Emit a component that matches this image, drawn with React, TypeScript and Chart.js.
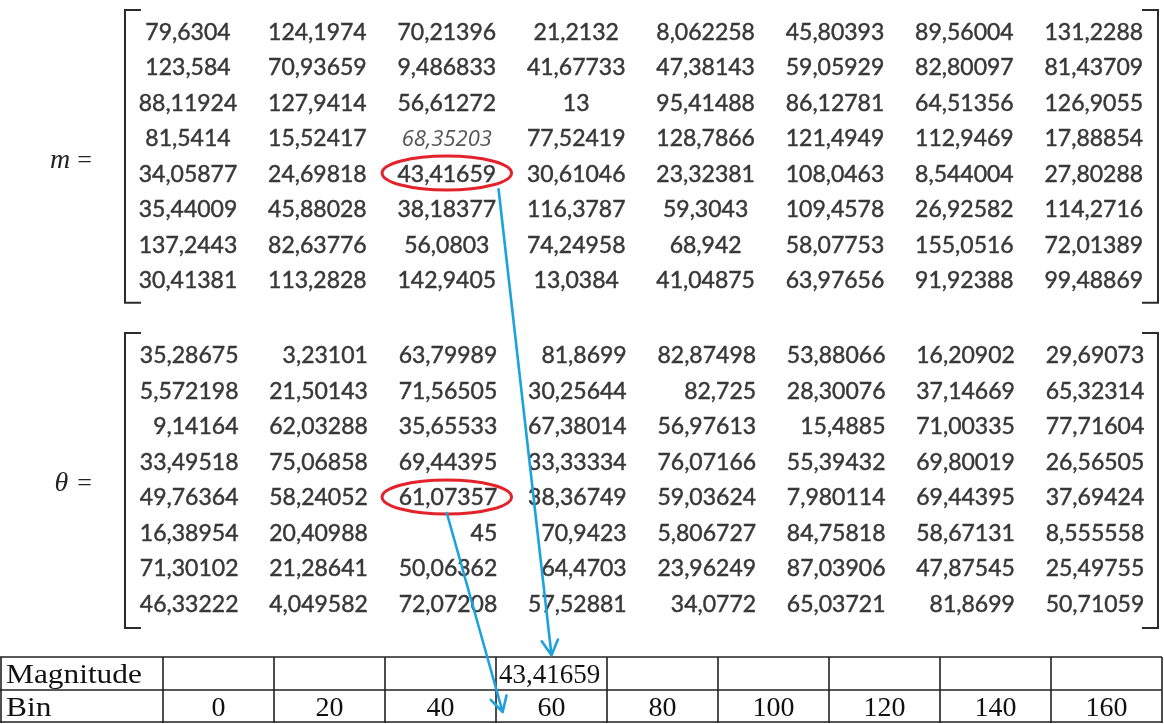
import React, { useEffect, useRef } from "react";
import { Chart, registerables } from "chart.js";

Chart.register(...registerables);

// ---------- data ----------
const mRows: string[][] = [
  ["79,6304", "124,1974", "70,21396", "21,2132", "8,062258", "45,80393", "89,56004", "131,2288"],
  ["123,584", "70,93659", "9,486833", "41,67733", "47,38143", "59,05929", "82,80097", "81,43709"],
  ["88,11924", "127,9414", "56,61272", "13", "95,41488", "86,12781", "64,51356", "126,9055"],
  ["81,5414", "15,52417", "68,35203", "77,52419", "128,7866", "121,4949", "112,9469", "17,88854"],
  ["34,05877", "24,69818", "43,41659", "30,61046", "23,32381", "108,0463", "8,544004", "27,80288"],
  ["35,44009", "45,88028", "38,18377", "116,3787", "59,3043", "109,4578", "26,92582", "114,2716"],
  ["137,2443", "82,63776", "56,0803", "74,24958", "68,942", "58,07753", "155,0516", "72,01389"],
  ["30,41381", "113,2828", "142,9405", "13,0384", "41,04875", "63,97656", "91,92388", "99,48869"],
];

const thetaRows: string[][] = [
  ["35,28675", "3,23101", "63,79989", "81,8699", "82,87498", "53,88066", "16,20902", "29,69073"],
  ["5,572198", "21,50143", "71,56505", "30,25644", "82,725", "28,30076", "37,14669", "65,32314"],
  ["9,14164", "62,03288", "35,65533", "67,38014", "56,97613", "15,4885", "71,00335", "77,71604"],
  ["33,49518", "75,06858", "69,44395", "33,33334", "76,07166", "55,39432", "69,80019", "26,56505"],
  ["49,76364", "58,24052", "61,07357", "38,36749", "59,03624", "7,980114", "69,44395", "37,69424"],
  ["16,38954", "20,40988", "45", "70,9423", "5,806727", "84,75818", "58,67131", "8,555558"],
  ["71,30102", "21,28641", "50,06362", "64,4703", "23,96249", "87,03906", "47,87545", "25,49755"],
  ["46,33222", "4,049582", "72,07208", "57,52881", "34,0772", "65,03721", "81,8699", "50,71059"],
];

const tableRowLabels = ["Magnitude", "Bin"];
const binLabels = ["0", "20", "40", "60", "80", "100", "120", "140", "160"];
const magnitudeCells = ["", "", "", "43,41659", "", "", "", "", ""];

const highlightRow = 4;
const highlightCol = 2;

// ---------- layout (scale units) ----------
const X_MIN = -1.4529;
const X_MAX = 7.5425;
const XT_MIN = -1.4685;
const XT_MAX = 9.018;
const Y_MIN = -0.9014;
const Y_MAX = 19.493;
const THETA_OFFSET = 9.099;
const THETA_RIGHT = 0.39;
const TABLE_TOP = 17.606;
const TABLE_ROW_H = 0.93;

type Cell = { x: number; y: number; text: string };

const mPoints: Cell[] = [];
mRows.forEach((row, r) => row.forEach((t, c) => mPoints.push({ x: c, y: r, text: t })));
const thetaPoints: Cell[] = [];
thetaRows.forEach((row, r) =>
  row.forEach((t, c) => thetaPoints.push({ x: c + THETA_RIGHT, y: THETA_OFFSET + r, text: t }))
);
const tablePoints: Cell[] = [];
binLabels.forEach((t, i) => tablePoints.push({ x: i + 0.5, y: TABLE_TOP + TABLE_ROW_H * 1.5, text: t }));
magnitudeCells.forEach((t, i) => {
  if (t) tablePoints.push({ x: i, y: TABLE_TOP + TABLE_ROW_H * 0.5, text: t });
});

const NUM_FONT = '23px "Lato", "Open Sans", sans-serif';
const NUM_COLOR = "#383838";
const SERIF = '"Liberation Serif", "Times New Roman", serif';

function drawArrow(ctx: CanvasRenderingContext2D, x1: number, y1: number, x2: number, y2: number) {
  ctx.save();
  ctx.strokeStyle = "#1ea2de";
  ctx.lineWidth = 2.6;
  ctx.lineCap = "round";
  ctx.lineJoin = "round";
  ctx.beginPath();
  ctx.moveTo(x1, y1);
  ctx.lineTo(x2, y2);
  const a = Math.atan2(y2 - y1, x2 - x1);
  const len = 17;
  const spread = 0.5;
  ctx.moveTo(x2 - len * Math.cos(a - spread), y2 - len * Math.sin(a - spread));
  ctx.lineTo(x2, y2);
  ctx.lineTo(x2 - len * Math.cos(a + spread), y2 - len * Math.sin(a + spread));
  ctx.stroke();
  ctx.restore();
}

const figurePlugin = {
  id: "figurePlugin",
  afterDatasetsDraw(chart: any) {
    const ctx: CanvasRenderingContext2D = chart.ctx;
    const xs = chart.scales.x;
    const xt = chart.scales.xt;
    const ys = chart.scales.y;
    const X = (v: number) => xs.getPixelForValue(v);
    const XT = (v: number) => xt.getPixelForValue(v);
    const Y = (v: number) => ys.getPixelForValue(v);

    ctx.save();

    // brackets
    ctx.strokeStyle = "#2b2b2b";
    ctx.lineWidth = 2;
    const serif = 16;
    const bracket = (xl: number, xr: number, top: number, bottom: number) => {
      ctx.beginPath();
      ctx.moveTo(xl + serif, top);
      ctx.lineTo(xl, top);
      ctx.lineTo(xl, bottom);
      ctx.lineTo(xl + serif, bottom);
      ctx.moveTo(xr - serif, top);
      ctx.lineTo(xr, top);
      ctx.lineTo(xr, bottom);
      ctx.lineTo(xr - serif, bottom);
      ctx.stroke();
    };
    bracket(X(-0.487), X(7.496), Y(-0.62), Y(7.63));
    bracket(X(-0.487), X(7.496), Y(THETA_OFFSET - 0.62), Y(THETA_OFFSET + 7.69));

    // matrix names
    ctx.fillStyle = "#222";
    ctx.textBaseline = "alphabetic";
    const nameX = X(-0.742);
    ctx.textAlign = "right";
    ctx.font = `26px ${SERIF}`;
    ctx.fillText("=", nameX, Y(3.6) + 8);
    ctx.fillText("=", nameX, Y(THETA_OFFSET + 3.6) + 8);
    const eqW = ctx.measureText("=").width;
    ctx.font = `italic 28px ${SERIF}`;
    ctx.fillText("m", nameX - eqW - 7, Y(3.6) + 8);
    ctx.fillText("θ", nameX - eqW - 9, Y(THETA_OFFSET + 3.6) + 8);

    // caption fragment cut at top
    ctx.font = `26px ${SERIF}`;
    ctx.textAlign = "left";
    ctx.fillText("g", X(5.83), Y(-1.05));

    // matrix numbers
    const drawCells = (dsIndex: number, align: CanvasTextAlign) => {
      const meta = chart.getDatasetMeta(dsIndex);
      const data = chart.data.datasets[dsIndex].data as Cell[];
      meta.data.forEach((el: any, i: number) => {
        const cell = data[i];
        ctx.textAlign = align;
        if (dsIndex === 0 && cell.text === "68,35203") {
          ctx.font = 'italic 22px "Open Sans", sans-serif';
          ctx.fillStyle = "#555";
          ctx.fillText(cell.text, el.x, el.y + 8);
          return;
        }
        ctx.font = NUM_FONT;
        ctx.fillStyle = NUM_COLOR;
        ctx.strokeStyle = NUM_COLOR;
        ctx.lineWidth = 0.45;
        ctx.fillText(cell.text, el.x, el.y + 8);
        ctx.strokeText(cell.text, el.x, el.y + 8);
      });
    };
    drawCells(0, "center");
    drawCells(1, "right");

    // table grid
    const tTop = Y(TABLE_TOP);
    const tMid = Y(TABLE_TOP + TABLE_ROW_H);
    const tBot = Y(TABLE_TOP + 2 * TABLE_ROW_H);
    ctx.strokeStyle = "#222";
    ctx.lineWidth = 1.6;
    ctx.beginPath();
    [tTop, tMid, tBot - 1].forEach((yy) => {
      ctx.moveTo(0, yy);
      ctx.lineTo(XT(binLabels.length), yy);
    });
    ctx.moveTo(1, tTop);
    ctx.lineTo(1, tBot);
    for (let k = 0; k <= binLabels.length; k++) {
      const xx = Math.min(XT(k), chart.width - 1.5);
      ctx.moveTo(xx, tTop);
      ctx.lineTo(xx, tBot);
    }
    ctx.stroke();

    // table text
    ctx.fillStyle = "#111";
    ctx.textAlign = "left";
    ctx.font = `28px ${SERIF}`;
    tableRowLabels.forEach((t, r) => {
      ctx.save();
      ctx.translate(XT(XT_MIN) + 6, Y(TABLE_TOP + TABLE_ROW_H * (r + 0.5)) + 9);
      ctx.scale(1.12, 1);
      ctx.fillText(t, 0, 0);
      ctx.restore();
    });
    const tMeta = chart.getDatasetMeta(2);
    const tData = chart.data.datasets[2].data as Cell[];
    tMeta.data.forEach((el: any, i: number) => {
      const cell = tData[i];
      const isBin = i < binLabels.length;
      ctx.font = isBin ? `28px ${SERIF}` : `27px ${SERIF}`;
      ctx.textAlign = isBin ? "center" : "left";
      ctx.fillText(cell.text, isBin ? el.x : el.x + 3, el.y + 9);
    });

    // red ellipses around the highlighted cell
    ctx.strokeStyle = "#e2232c";
    ctx.lineWidth = 3;
    const ellipse = (cx: number, cy: number) => {
      ctx.beginPath();
      ctx.ellipse(cx, cy, X(highlightCol + 0.5) - X(highlightCol), Y(0.48) - Y(0), 0, 0, Math.PI * 2);
      ctx.stroke();
    };
    ellipse(X(highlightCol), Y(highlightRow) - 1);
    ellipse(X(highlightCol), Y(THETA_OFFSET + highlightRow));

    // arrows to the histogram table
    drawArrow(ctx, X(highlightCol + 0.4), Y(highlightRow + 0.43), XT(3.5), Y(TABLE_TOP - 0.05));
    drawArrow(ctx, X(highlightCol), Y(THETA_OFFSET + highlightRow + 0.45), XT(3.06), Y(19.155));

    ctx.restore();
  },
};

export default function App() {
  const ref = useRef<HTMLCanvasElement>(null);
  useEffect(() => {
    const canvas = ref.current;
    if (!canvas) return;
    const chart = new Chart(canvas, {
      type: "scatter",
      data: {
        datasets: [
          { label: "m", data: mPoints as any, xAxisID: "x", yAxisID: "y", pointRadius: 0 },
          { label: "theta", data: thetaPoints as any, xAxisID: "x", yAxisID: "y", pointRadius: 0 },
          { label: "table", data: tablePoints as any, xAxisID: "xt", yAxisID: "y", pointRadius: 0 },
        ],
      },
      options: {
        responsive: false,
        animation: false,
        events: [],
        layout: { padding: 0 },
        plugins: { legend: { display: false }, tooltip: { enabled: false } },
        scales: {
          x: { type: "linear", display: false, min: X_MIN, max: X_MAX },
          xt: { type: "linear", axis: "x", display: false, min: XT_MIN, max: XT_MAX },
          y: { type: "linear", display: false, reverse: true, min: Y_MIN, max: Y_MAX },
        },
      } as any,
      plugins: [figurePlugin],
    });
    return () => chart.destroy();
  }, []);
  return (
    <div style={{ position: "absolute", left: 0, top: 0, width: 1164, height: 724, background: "#fff" }}>
      <canvas ref={ref} width={1164} height={724} style={{ display: "block" }} />
    </div>
  );
}
